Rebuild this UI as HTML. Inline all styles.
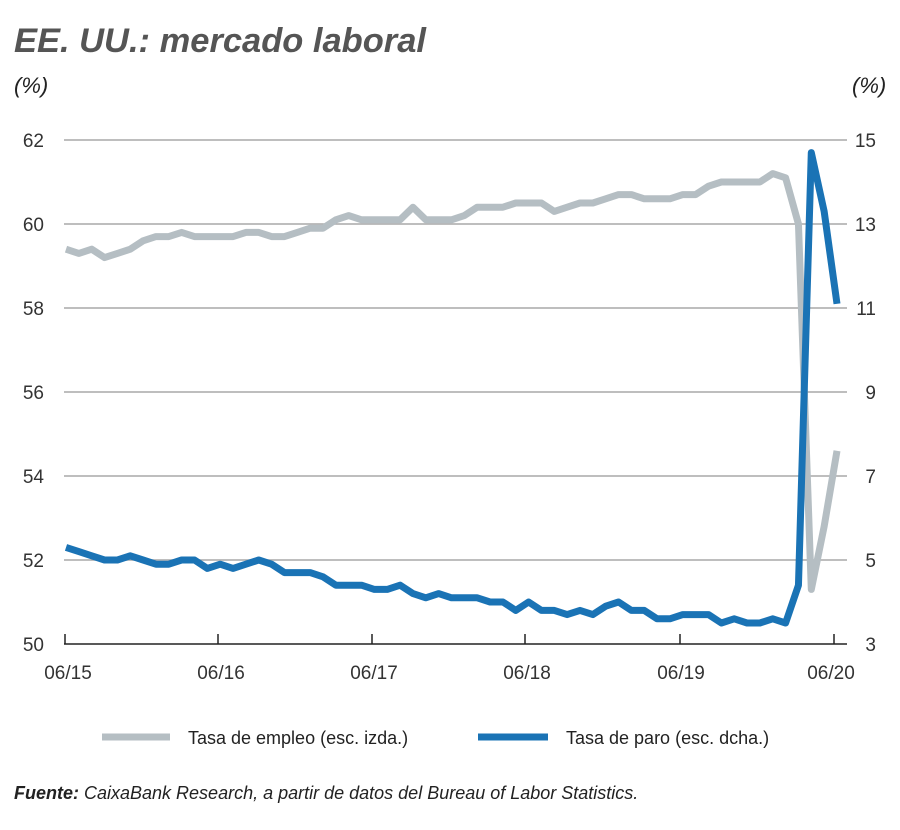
<!DOCTYPE html>
<html><head><meta charset="utf-8"><style>
body{margin:0;background:#fff;width:900px;height:825px;overflow:hidden;font-family:"Liberation Sans",sans-serif}
</style></head><body>
<svg width="900" height="825" xmlns="http://www.w3.org/2000/svg" font-family="Liberation Sans, sans-serif">
<text x="14" y="52" font-size="34" font-weight="bold" font-style="italic" fill="#555" textLength="412" lengthAdjust="spacingAndGlyphs">EE. UU.: mercado laboral</text>
<text x="14" y="93" font-size="22" font-style="italic" fill="#222">(%)</text>
<text x="852" y="93" font-size="22" font-style="italic" fill="#222">(%)</text>
<g stroke="#a8a8a8" stroke-width="1.5">
<line x1="64" x2="847" y1="140" y2="140"/><line x1="64" x2="847" y1="224" y2="224"/>
<line x1="64" x2="847" y1="308" y2="308"/><line x1="64" x2="847" y1="392" y2="392"/>
<line x1="64" x2="847" y1="476" y2="476"/><line x1="64" x2="847" y1="560" y2="560"/>
</g>
<g stroke="#222" stroke-width="1.5">
<line x1="64" x2="847" y1="644" y2="644"/>
<line x1="65" x2="65" y1="634" y2="644"/><line x1="218" x2="218" y1="634" y2="644"/>
<line x1="372" x2="372" y1="634" y2="644"/><line x1="525" x2="525" y1="634" y2="644"/>
<line x1="680" x2="680" y1="634" y2="644"/><line x1="834" x2="834" y1="634" y2="644"/>
</g>
<g font-size="19" fill="#333" text-anchor="end">
<text x="44" y="147">62</text><text x="44" y="231">60</text><text x="44" y="315">58</text>
<text x="44" y="399">56</text><text x="44" y="483">54</text><text x="44" y="567">52</text><text x="44" y="651">50</text>
</g>
<g font-size="19" fill="#333" text-anchor="end">
<text x="876" y="147">15</text><text x="876" y="231">13</text><text x="876" y="315">11</text>
<text x="876" y="399">9</text><text x="876" y="483">7</text><text x="876" y="567">5</text><text x="876" y="651">3</text>
</g>
<g font-size="19" fill="#333" text-anchor="middle">
<text x="68" y="679">06/15</text><text x="221" y="679">06/16</text><text x="374" y="679">06/17</text>
<text x="527" y="679">06/18</text><text x="681" y="679">06/19</text><text x="831" y="679">06/20</text>
</g>
<g transform="translate(66,644) scale(12.85,-42)">
<polyline transform="translate(0,-50)" fill="none" stroke="#b5bec3" stroke-width="7" stroke-linejoin="round" vector-effect="non-scaling-stroke" points="0,59.4 1,59.3 2,59.4 3,59.2 4,59.3 5,59.4 6,59.6 7,59.7 8,59.7 9,59.8 10,59.7 11,59.7 12,59.7 13,59.7 14,59.8 15,59.8 16,59.7 17,59.7 18,59.8 19,59.9 20,59.9 21,60.1 22,60.2 23,60.1 24,60.1 25,60.1 26,60.1 27,60.4 28,60.1 29,60.1 30,60.1 31,60.2 32,60.4 33,60.4 34,60.4 35,60.5 36,60.5 37,60.5 38,60.3 39,60.4 40,60.5 41,60.5 42,60.6 43,60.7 44,60.7 45,60.6 46,60.6 47,60.6 48,60.7 49,60.7 50,60.9 51,61.0 52,61.0 53,61.0 54,61.0 55,61.2 56,61.1 57,60.0 58,51.3 59,52.8 60,54.6"/>
<polyline transform="translate(0,-3)" fill="none" stroke="#1a73b5" stroke-width="7" stroke-linejoin="round" vector-effect="non-scaling-stroke" points="0,5.3 1,5.2 2,5.1 3,5.0 4,5.0 5,5.1 6,5.0 7,4.9 8,4.9 9,5.0 10,5.0 11,4.8 12,4.9 13,4.8 14,4.9 15,5.0 16,4.9 17,4.7 18,4.7 19,4.7 20,4.6 21,4.4 22,4.4 23,4.4 24,4.3 25,4.3 26,4.4 27,4.2 28,4.1 29,4.2 30,4.1 31,4.1 32,4.1 33,4.0 34,4.0 35,3.8 36,4.0 37,3.8 38,3.8 39,3.7 40,3.8 41,3.7 42,3.9 43,4.0 44,3.8 45,3.8 46,3.6 47,3.6 48,3.7 49,3.7 50,3.7 51,3.5 52,3.6 53,3.5 54,3.5 55,3.6 56,3.5 57,4.4 58,14.7 59,13.3 60,11.1"/>
</g>
<line x1="102" x2="170" y1="737" y2="737" stroke="#b5bec3" stroke-width="7"/>
<text x="188" y="744" font-size="18" fill="#222">Tasa de empleo (esc. izda.)</text>
<line x1="478" x2="548" y1="737" y2="737" stroke="#1a73b5" stroke-width="7"/>
<text x="566" y="744" font-size="18" fill="#222">Tasa de paro (esc. dcha.)</text>
<text x="14" y="799" font-size="18" font-style="italic" fill="#222"><tspan font-weight="bold">Fuente:</tspan> CaixaBank Research, a partir de datos del Bureau of Labor Statistics.</text>
</svg>
</body></html>
